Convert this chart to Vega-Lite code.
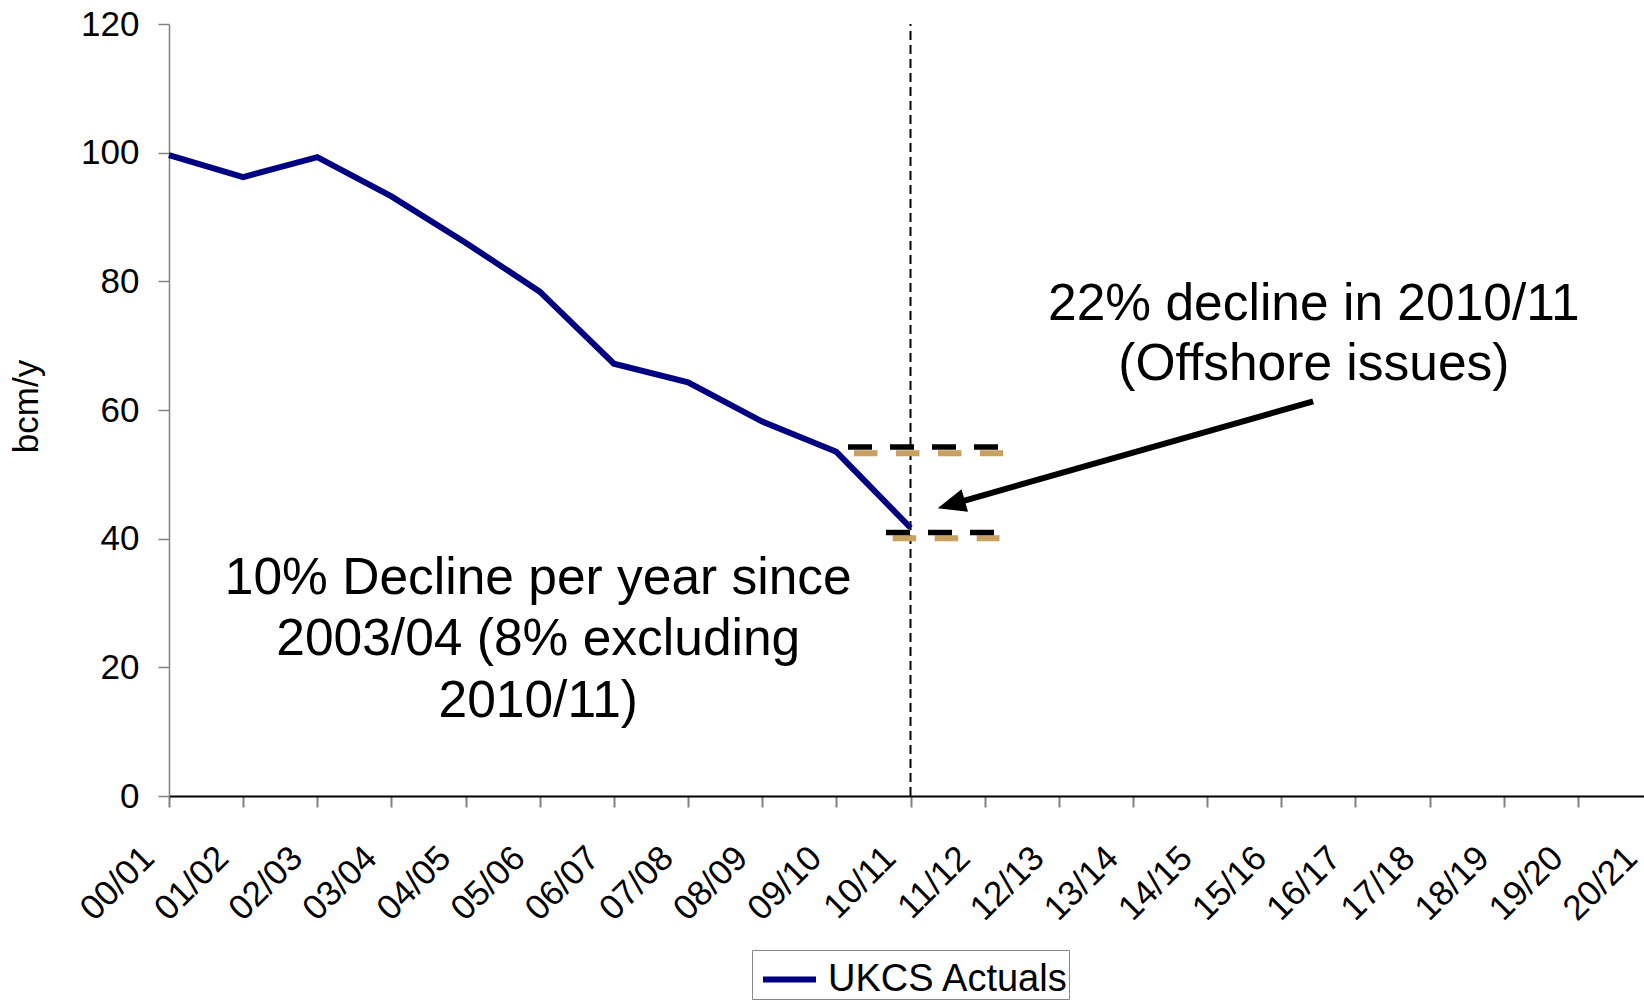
{
  "$schema": "https://vega.github.io/schema/vega-lite/v6.json",
  "width": 1475,
  "height": 772,
  "autosize": {"type": "none"},
  "padding": {"left": 169, "top": 24, "right": 0, "bottom": 204},
  "background": "white",
  "config": {"view": {"stroke": null}, "font": "Liberation Sans"},
  "datasets": {
    "actuals": [
      {"year": "00/01", "i": 0, "v": 99.6, "series": "UKCS Actuals"},
      {"year": "01/02", "i": 1, "v": 96.2, "series": "UKCS Actuals"},
      {"year": "02/03", "i": 2, "v": 99.3, "series": "UKCS Actuals"},
      {"year": "03/04", "i": 3, "v": 93.2, "series": "UKCS Actuals"},
      {"year": "04/05", "i": 4, "v": 86.0, "series": "UKCS Actuals"},
      {"year": "05/06", "i": 5, "v": 78.4, "series": "UKCS Actuals"},
      {"year": "06/07", "i": 6, "v": 67.2, "series": "UKCS Actuals"},
      {"year": "07/08", "i": 7, "v": 64.3, "series": "UKCS Actuals"},
      {"year": "08/09", "i": 8, "v": 58.2, "series": "UKCS Actuals"},
      {"year": "09/10", "i": 9, "v": 53.5, "series": "UKCS Actuals"},
      {"year": "10/11", "i": 10, "v": 41.7, "series": "UKCS Actuals"}
    ],
    "divider": [{"i": 10, "v": 0}, {"i": 10, "v": 120}],
    "tan": [
      {"seg": "upper", "i": 9.238, "v": 53.27},
      {"seg": "upper", "i": 11.25, "v": 53.27},
      {"seg": "lower", "i": 9.76, "v": 40.06},
      {"seg": "lower", "i": 11.2, "v": 40.06}
    ],
    "black": [
      {"seg": "upper", "i": 9.157, "v": 54.25},
      {"seg": "upper", "i": 11.19, "v": 54.25},
      {"seg": "lower", "i": 9.67, "v": 40.96},
      {"seg": "lower", "i": 11.13, "v": 40.96}
    ],
    "arrow": [
      {"i": 15.43, "v": 61.33},
      {"i": 10.67, "v": 45.72}
    ],
    "head": [{"i": 10.367, "v": 44.72}],
    "notes": [
      {"i": 15.44, "v": 74.04, "label": "22% decline in 2010/11"},
      {"i": 15.44, "v": 64.59, "label": "(Offshore issues)"},
      {"i": 4.98, "v": 31.4, "label": "10% Decline per year since"},
      {"i": 4.98, "v": 21.92, "label": "2003/04 (8% excluding"},
      {"i": 4.98, "v": 12.28, "label": "2010/11)"}
    ]
  },
  "layer": [
    {
      "data": {"name": "divider"},
      "mark": {"type": "line", "color": "black", "strokeWidth": 2, "strokeDash": [9, 5]},
      "encoding": {
        "x": {"field": "i", "type": "quantitative", "scale": {"domain": [0, 20], "range": [0, 1483]},
          "axis": {
            "values": [0, 1, 2, 3, 4, 5, 6, 7, 8, 9, 10, 11, 12, 13, 14, 15, 16, 17, 18, 19, 20],
            "labelExpr": "['00/01','01/02','02/03','03/04','04/05','05/06','06/07','07/08','08/09','09/10','10/11','11/12','12/13','13/14','14/15','15/16','16/17','17/18','18/19','19/20','20/21'][datum.value]",
            "labelAngle": -45, "labelAlign": "right", "labelBaseline": "middle",
            "labelFontSize": 35, "labelColor": "black", "labelPadding": 45, "labelOffset": -21,
            "labelOverlap": false, "labelFlush": false,
            "tickSize": 11, "tickColor": "#808080", "tickWidth": 2,
            "domainColor": "black", "domainWidth": 2, "grid": false, "title": null
          }
        },
        "y": {"field": "v", "type": "quantitative", "scale": {"domain": [0, 120]},
          "axis": {
            "values": [0, 20, 40, 60, 80, 100, 120],
            "labelFontSize": 35, "labelColor": "black", "labelPadding": 19,
            "tickSize": 11, "tickColor": "#808080", "tickWidth": 1.5,
            "domainColor": "#808080", "domainWidth": 1.5, "grid": false,
            "title": "bcm/y", "titleFontSize": 35, "titleFontWeight": "normal", "titleColor": "black",
            "titleX": -132, "titleY": 382, "titleAngle": -90, "titleAlign": "center", "titleBaseline": "alphabetic"
          }
        }
      }
    },
    {
      "data": {"name": "tan"},
      "mark": {"type": "line", "color": "#c8a060", "strokeWidth": 6, "strokeDash": [23.5, 18.5]},
      "encoding": {
        "x": {"field": "i", "type": "quantitative"},
        "y": {"field": "v", "type": "quantitative"},
        "detail": {"field": "seg"}
      }
    },
    {
      "data": {"name": "black"},
      "mark": {"type": "line", "color": "black", "strokeWidth": 5.5, "strokeDash": [24, 18]},
      "encoding": {
        "x": {"field": "i", "type": "quantitative"},
        "y": {"field": "v", "type": "quantitative"},
        "detail": {"field": "seg"}
      }
    },
    {
      "data": {"name": "actuals"},
      "mark": {"type": "line", "strokeWidth": 6, "strokeJoin": "miter"},
      "encoding": {
        "x": {"field": "i", "type": "quantitative"},
        "y": {"field": "v", "type": "quantitative"},
        "color": {"field": "series", "type": "nominal",
          "scale": {"domain": ["UKCS Actuals"], "range": ["#000080"]},
          "legend": {
            "orient": "none", "legendX": 583, "legendY": 926, "direction": "horizontal",
            "title": null, "symbolType": "stroke", "symbolStrokeWidth": 6, "symbolSize": 2809,
            "labelFontSize": 38, "labelColor": "black", "labelFont": "Liberation Sans", "labelLimit": 600,
            "padding": 0, "symbolOffset": 8, "labelOffset": 9,
            "strokeColor": "#888888"
          }
        }
      }
    },
    {
      "data": {"name": "arrow"},
      "mark": {"type": "line", "color": "black", "strokeWidth": 6},
      "encoding": {
        "x": {"field": "i", "type": "quantitative"},
        "y": {"field": "v", "type": "quantitative"}
      }
    },
    {
      "data": {"name": "head"},
      "mark": {"type": "point", "shape": "M0,0L-0.5,1.2L0.5,1.2Z", "filled": true, "color": "black", "opacity": 1, "size": 2200, "angle": 254.1, "strokeWidth": 0},
      "encoding": {
        "x": {"field": "i", "type": "quantitative"},
        "y": {"field": "v", "type": "quantitative"}
      }
    },
    {
      "data": {"name": "notes"},
      "mark": {"type": "text", "fontSize": 51.5, "align": "center", "baseline": "alphabetic", "color": "black", "font": "Liberation Sans"},
      "encoding": {
        "x": {"field": "i", "type": "quantitative"},
        "y": {"field": "v", "type": "quantitative"},
        "text": {"field": "label"}
      }
    }
  ]
}
